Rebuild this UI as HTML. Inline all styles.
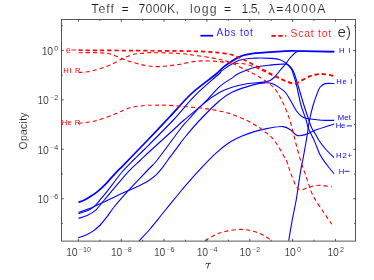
<!DOCTYPE html><html><head><meta charset="utf-8"><title>Opacity</title>
<style>html,body{margin:0;padding:0;background:#fff}svg{display:block}text{font-family:"Liberation Sans",sans-serif}</style></head><body>
<svg width="374" height="280" viewBox="0 0 374 280">
<defs><filter id="sf" x="0" y="0" width="374" height="280" filterUnits="userSpaceOnUse"><feGaussianBlur stdDeviation="0.3"/></filter></defs>
<rect width="374" height="280" fill="#fff"/>
<g filter="url(#sf)">
<g fill="none" stroke-linecap="butt" stroke-linejoin="round">
<path d="M78.50 202.20 C79.42 201.88 82.08 201.20 84.00 200.30 C85.92 199.40 87.75 198.25 90.00 196.80 C92.25 195.35 94.78 193.85 97.50 191.60 C100.22 189.35 103.37 186.30 106.30 183.30 C109.23 180.30 112.27 176.60 115.10 173.60 C117.93 170.60 119.47 169.23 123.30 165.30 C127.13 161.37 134.10 154.13 138.10 150.00 C142.10 145.87 141.98 146.08 147.30 140.50 C152.62 134.92 162.62 124.33 170.00 116.50 C177.38 108.67 184.02 100.50 191.60 93.50 C199.18 86.50 210.10 78.98 215.50 74.50 C220.90 70.02 219.92 69.58 224.00 66.60 C228.08 63.62 234.67 58.85 240.00 56.60 C245.33 54.35 248.67 54.00 256.00 53.10 C263.33 52.20 277.17 51.55 284.00 51.20 C290.83 50.85 288.62 50.92 297.00 51.00 C305.38 51.08 328.08 51.58 334.30 51.70" stroke="#0000ff" stroke-width="1.7"/>
<path d="M139.00 241.00 C140.83 239.00 146.00 233.67 150.00 229.00 C154.00 224.33 158.38 218.67 163.00 213.00 C167.62 207.33 173.70 199.87 177.70 195.00 C181.70 190.13 182.62 188.77 187.00 183.80 C191.38 178.83 199.17 170.30 204.00 165.20 C208.83 160.10 211.83 156.93 216.00 153.20 C220.17 149.47 224.75 145.62 229.00 142.80 C233.25 139.98 237.28 138.17 241.50 136.30 C245.72 134.43 249.88 132.92 254.30 131.60 C258.72 130.28 263.22 129.23 268.00 128.40 C272.78 127.57 279.17 126.28 283.00 126.60 C286.83 126.92 288.58 128.80 291.00 130.30 C293.42 131.80 294.95 134.93 297.50 135.60 C300.05 136.27 303.37 135.20 306.30 134.30 C309.23 133.40 310.45 131.93 315.10 130.20 C319.75 128.47 331.02 124.95 334.20 123.90" stroke="#0000ff" stroke-width="1.1"/>
<path d="M288.70 240.60 C289.33 236.95 291.25 225.47 292.50 218.70 C293.75 211.93 295.28 205.12 296.20 200.00 C297.12 194.88 297.22 193.10 298.00 188.00 C298.78 182.90 300.10 174.07 300.90 169.40 C301.70 164.73 302.03 164.07 302.80 160.00 C303.57 155.93 304.72 149.50 305.50 145.00 C306.28 140.50 306.83 137.17 307.50 133.00 C308.17 128.83 308.55 124.67 309.50 120.00 C310.45 115.33 311.95 109.35 313.20 105.00 C314.45 100.65 315.83 96.90 317.00 93.90 C318.17 90.90 318.83 88.72 320.20 87.00 C321.57 85.28 322.85 84.18 325.20 83.60 C327.55 83.02 332.78 83.52 334.30 83.50" stroke="#0000ff" stroke-width="1.1"/>
<path d="M78.50 212.40 C80.22 211.80 84.98 210.33 88.80 208.80 C92.62 207.27 96.70 205.38 101.40 203.20 C106.10 201.02 112.40 197.85 117.00 195.70 C121.60 193.55 125.05 192.08 129.00 190.30 C132.95 188.52 137.45 186.58 140.70 185.00 C143.95 183.42 145.88 182.53 148.50 180.80 C151.12 179.07 154.03 176.85 156.40 174.60 C158.77 172.35 160.82 169.68 162.70 167.30 C164.58 164.92 166.15 162.43 167.70 160.30 C169.25 158.17 169.90 157.33 172.00 154.50 C174.10 151.67 177.90 146.47 180.30 143.30 C182.70 140.13 183.13 139.38 186.40 135.50 C189.67 131.62 194.33 125.83 199.90 120.00 C205.47 114.17 214.45 105.13 219.80 100.50 C225.15 95.87 226.30 94.85 232.00 92.20 C237.70 89.55 248.33 86.17 254.00 84.60 C259.67 83.03 263.00 82.98 266.00 82.80 C269.00 82.62 269.77 82.70 272.00 83.50 C274.23 84.30 277.17 86.10 279.40 87.60 C281.63 89.10 283.63 90.52 285.40 92.50 C287.17 94.48 288.18 96.47 290.00 99.50 C291.82 102.53 294.20 107.78 296.30 110.70 C298.40 113.62 300.52 115.65 302.60 117.00 C304.68 118.35 305.67 118.27 308.80 118.80 C311.93 119.33 317.17 119.93 321.40 120.20 C325.63 120.47 332.07 120.37 334.20 120.40" stroke="#0000ff" stroke-width="1.1"/>
<path d="M78.50 218.30 C79.80 217.88 83.53 217.07 86.30 215.80 C89.07 214.53 92.17 213.25 95.10 210.70 C98.03 208.15 101.07 203.83 103.90 200.50 C106.73 197.17 108.05 195.48 112.10 190.70 C116.15 185.92 123.45 176.92 128.20 171.80 C132.95 166.68 136.77 163.63 140.60 160.00 C144.43 156.37 145.77 155.00 151.20 150.00 C156.63 145.00 167.72 135.00 173.20 130.00 C178.68 125.00 179.10 124.35 184.10 120.00 C189.10 115.65 197.25 109.50 203.20 103.90 C209.15 98.30 215.00 90.70 219.80 86.40 C224.60 82.10 228.87 80.25 232.00 78.10 C235.13 75.95 234.73 75.32 238.60 73.50 C242.47 71.68 249.68 68.63 255.20 67.20 C260.72 65.77 267.55 65.38 271.70 64.90 C275.85 64.42 277.68 64.43 280.10 64.30 C282.52 64.17 284.55 63.73 286.20 64.10 C287.85 64.47 288.87 65.43 290.00 66.50 C291.13 67.57 292.08 68.75 293.00 70.50 C293.92 72.25 294.53 74.08 295.50 77.00 C296.47 79.92 297.43 83.42 298.80 88.00 C300.17 92.58 302.08 99.33 303.70 104.50 C305.32 109.67 307.17 115.08 308.50 119.00 C309.83 122.92 310.60 125.58 311.70 128.00 C312.80 130.42 313.80 131.28 315.10 133.50 C316.40 135.72 317.62 138.55 319.50 141.30 C321.38 144.05 323.97 147.30 326.40 150.00 C328.83 152.70 332.82 156.25 334.10 157.50" stroke="#0000ff" stroke-width="1.1"/>
<path d="M78.50 213.60 C80.22 213.02 86.03 211.42 88.80 210.10 C91.57 208.78 93.00 207.68 95.10 205.70 C97.20 203.72 99.30 200.70 101.40 198.20 C103.50 195.70 104.33 194.98 107.70 190.70 C111.07 186.42 117.22 177.70 121.60 172.50 C125.98 167.30 130.30 163.25 134.00 159.50 C137.70 155.75 137.25 156.58 143.80 150.00 C150.35 143.42 164.78 129.07 173.30 120.00 C181.82 110.93 187.30 103.27 194.90 95.60 C202.50 87.93 214.38 78.18 218.90 74.00 C223.42 69.82 218.72 72.73 222.00 70.50 C225.28 68.27 233.07 62.67 238.60 60.60 C244.13 58.53 249.68 58.47 255.20 58.10 C260.72 57.73 267.55 58.13 271.70 58.40 C275.85 58.67 277.68 58.88 280.10 59.70 C282.52 60.52 284.33 61.77 286.20 63.30 C288.07 64.83 290.12 67.12 291.30 68.90 C292.48 70.68 292.43 71.32 293.30 74.00 C294.17 76.68 295.25 79.92 296.50 85.00 C297.75 90.08 299.25 98.83 300.80 104.50 C302.35 110.17 304.55 115.08 305.80 119.00 C307.05 122.92 307.55 125.75 308.30 128.00 C309.05 130.25 309.17 130.07 310.30 132.50 C311.43 134.93 313.45 138.83 315.10 142.60 C316.75 146.37 318.22 151.37 320.20 155.10 C322.18 158.83 324.68 161.89 327.00 165.00 C329.32 168.11 332.92 172.29 334.10 173.75" stroke="#0000ff" stroke-width="1.1"/>
<path d="M78.30 237.80 C79.62 237.32 83.63 236.10 86.20 234.90 C88.77 233.70 91.37 232.25 93.70 230.60 C96.03 228.95 98.10 227.15 100.20 225.00 C102.30 222.85 103.85 220.87 106.30 217.70 C108.75 214.53 111.12 210.63 114.90 206.00 C118.68 201.37 123.18 196.23 129.00 189.90 C134.82 183.57 145.10 172.98 149.80 168.00 C154.50 163.02 151.92 166.75 157.20 160.00 C162.48 153.25 176.33 134.17 181.50 127.50 C186.67 120.83 184.58 123.93 188.20 120.00 C191.82 116.07 197.93 108.53 203.20 103.90 C208.47 99.27 215.00 94.97 219.80 92.20 C224.60 89.43 227.48 88.70 232.00 87.30 C236.52 85.90 241.65 84.67 246.90 83.80 C252.15 82.93 259.65 82.65 263.50 82.10 C267.35 81.55 268.25 81.27 270.00 80.50 C271.75 79.73 272.82 78.58 274.00 77.50 C275.18 76.42 275.73 75.62 277.10 74.00 C278.47 72.38 280.68 69.58 282.20 67.80 C283.72 66.02 284.85 64.98 286.20 63.30 C287.55 61.62 288.60 59.57 290.30 57.70 C292.00 55.83 294.45 53.17 296.40 52.10 C298.35 51.03 295.68 51.37 302.00 51.30 C308.32 51.23 328.92 51.63 334.30 51.70" stroke="#0000ff" stroke-width="1.1"/>
<path d="M78.50 50.20 C87.08 50.27 110.42 50.42 130.00 50.60 C149.58 50.78 180.03 50.80 196.00 51.30 C211.97 51.80 218.47 52.48 225.80 53.60 C233.13 54.72 234.63 55.77 240.00 58.00 C245.37 60.23 252.23 64.05 258.00 67.00 C263.77 69.95 269.27 73.10 274.60 75.70 C279.93 78.30 286.38 81.35 290.00 82.60 C293.62 83.85 294.20 83.67 296.30 83.20 C298.40 82.73 300.52 80.92 302.60 79.80 C304.68 78.68 306.72 77.37 308.80 76.50 C310.88 75.63 312.78 75.02 315.10 74.60 C317.42 74.18 319.97 73.88 322.70 74.00 C325.43 74.12 329.62 75.00 331.50 75.30 C333.38 75.60 333.58 75.72 334.00 75.80" stroke="#ff0000" stroke-width="1.7" stroke-dasharray="4.2 3"/>
<path d="M78.50 72.50 C80.75 72.25 86.75 72.25 92.00 71.00 C97.25 69.75 103.67 67.60 110.00 65.00 C116.33 62.40 124.17 57.40 130.00 55.40 C135.83 53.40 140.83 53.45 145.00 53.00 C149.17 52.55 149.17 52.62 155.00 52.70 C160.83 52.78 173.17 53.03 180.00 53.50 C186.83 53.97 190.17 54.67 196.00 55.50 C201.83 56.33 209.47 57.43 215.00 58.50 C220.53 59.57 224.07 59.97 229.20 61.90 C234.33 63.83 241.00 67.72 245.80 70.10 C250.60 72.48 253.33 73.27 258.00 76.20 C262.67 79.13 269.65 83.30 273.80 87.70 C277.95 92.10 280.28 97.35 282.90 102.60 C285.52 107.85 287.85 114.50 289.50 119.20 C291.15 123.90 291.67 126.50 292.80 130.80 C293.93 135.10 294.88 139.68 296.30 145.00 C297.72 150.32 299.43 156.77 301.30 162.70 C303.17 168.63 305.55 175.12 307.50 180.60 C309.45 186.08 310.35 190.37 313.00 195.60 C315.65 200.83 320.27 207.22 323.40 212.00 C326.53 216.78 330.40 222.25 331.80 224.30" stroke="#ff0000" stroke-width="1.1" stroke-dasharray="4.2 3"/>
<path d="M78.50 52.70 C82.08 52.72 94.42 52.50 100.00 52.80 C105.58 53.10 107.00 53.05 112.00 54.50 C117.00 55.95 123.23 59.50 130.00 61.50 C136.77 63.50 145.10 65.92 152.60 66.50 C160.10 67.08 167.77 65.87 175.00 65.00 C182.23 64.13 189.33 61.93 196.00 61.30 C202.67 60.67 208.92 60.88 215.00 61.20 C221.08 61.52 227.50 62.73 232.50 63.20 C237.50 63.67 240.75 63.12 245.00 64.00 C249.25 64.88 253.07 66.42 258.00 68.50 C262.93 70.58 269.27 74.08 274.60 76.50 C279.93 78.92 286.38 81.82 290.00 83.00 C293.62 84.18 294.20 84.07 296.30 83.60 C298.40 83.13 300.52 81.32 302.60 80.20 C304.68 79.08 306.72 77.77 308.80 76.90 C310.88 76.03 312.78 75.42 315.10 75.00 C317.42 74.58 319.55 74.23 322.70 74.40 C325.85 74.57 332.12 75.73 334.00 76.00" stroke="#ff0000" stroke-width="1.1" stroke-dasharray="4.2 3"/>
<path d="M78.50 123.30 C81.25 122.92 88.92 122.55 95.00 121.00 C101.08 119.45 109.17 116.20 115.00 114.00 C120.83 111.80 125.00 109.22 130.00 107.80 C135.00 106.38 140.83 105.93 145.00 105.50 C149.17 105.07 150.83 105.22 155.00 105.20 C159.17 105.18 163.17 105.00 170.00 105.40 C176.83 105.80 188.90 106.88 196.00 107.60 C203.10 108.32 207.07 108.73 212.60 109.70 C218.13 110.67 223.67 111.68 229.20 113.40 C234.73 115.12 241.00 117.77 245.80 120.00 C250.60 122.23 254.87 124.87 258.00 126.80 C261.13 128.73 261.93 129.40 264.60 131.60 C267.27 133.80 270.43 135.27 274.00 140.00 C277.57 144.73 283.23 154.50 286.00 160.00 C288.77 165.50 288.90 168.63 290.60 173.00 C292.30 177.37 294.48 183.37 296.20 186.20 C297.92 189.03 298.72 189.87 300.90 190.00 C303.08 190.13 306.33 187.78 309.30 187.00 C312.27 186.22 314.95 185.33 318.70 185.30 C322.45 185.27 329.62 186.55 331.80 186.80" stroke="#ff0000" stroke-width="1.1" stroke-dasharray="4.2 3"/>
<path d="M205.00 240.70 C206.67 239.75 211.67 236.53 215.00 235.00 C218.33 233.47 220.58 232.43 225.00 231.50 C229.42 230.57 236.50 229.35 241.50 229.40 C246.50 229.45 251.08 230.65 255.00 231.80 C258.92 232.95 262.22 234.82 265.00 236.30 C267.78 237.78 270.58 239.97 271.70 240.70" stroke="#ff0000" stroke-width="1.1" stroke-dasharray="4.2 3"/>
</g>
<g stroke="#3a3a3a" stroke-width="0.85" fill="none">
<rect x="61.50" y="19.50" width="294.00" height="221.60"/>
<path d="M78.40 241.10 v-2.30 M78.40 19.50 v2.30 M99.82 241.10 v-1.40 M99.82 19.50 v1.40 M121.24 241.10 v-2.30 M121.24 19.50 v2.30 M142.66 241.10 v-1.40 M142.66 19.50 v1.40 M164.08 241.10 v-2.30 M164.08 19.50 v2.30 M185.50 241.10 v-1.40 M185.50 19.50 v1.40 M206.92 241.10 v-2.30 M206.92 19.50 v2.30 M228.34 241.10 v-1.40 M228.34 19.50 v1.40 M249.76 241.10 v-2.30 M249.76 19.50 v2.30 M271.18 241.10 v-1.40 M271.18 19.50 v1.40 M292.60 241.10 v-2.30 M292.60 19.50 v2.30 M314.02 241.10 v-1.40 M314.02 19.50 v1.40 M335.44 241.10 v-2.30 M335.44 19.50 v2.30 M61.50 223.44 h1.40 M355.50 223.44 h-1.40 M61.50 198.72 h2.30 M355.50 198.72 h-2.30 M61.50 174.00 h1.40 M355.50 174.00 h-1.40 M61.50 149.28 h2.30 M355.50 149.28 h-2.30 M61.50 124.56 h1.40 M355.50 124.56 h-1.40 M61.50 99.84 h2.30 M355.50 99.84 h-2.30 M61.50 75.12 h1.40 M355.50 75.12 h-1.40 M61.50 50.40 h2.30 M355.50 50.40 h-2.30 M61.50 25.68 h1.40 M355.50 25.68 h-1.40"/>
</g>
<text x="91.30" y="13.10" font-size="12.3" fill="#1a1a1a" textLength="22.6" lengthAdjust="spacing"  stroke="#fff" stroke-width="0.16">Teff</text>
<text x="121.40" y="13.10" font-size="12.3" fill="#1a1a1a" textLength="8.8" lengthAdjust="spacing"  stroke="#fff" stroke-width="0.16">=</text>
<text x="138.50" y="13.10" font-size="12.3" fill="#1a1a1a" textLength="40.3" lengthAdjust="spacing"  stroke="#fff" stroke-width="0.16">7000K,</text>
<text x="190.00" y="13.10" font-size="12.3" fill="#1a1a1a" textLength="26.5" lengthAdjust="spacing"  stroke="#fff" stroke-width="0.16">logg</text>
<text x="224.00" y="13.10" font-size="12.3" fill="#1a1a1a" textLength="8.8" lengthAdjust="spacing"  stroke="#fff" stroke-width="0.16">=</text>
<text x="241.60" y="13.10" font-size="12.3" fill="#1a1a1a" textLength="18.9" lengthAdjust="spacing"  stroke="#fff" stroke-width="0.16">1.5,</text>
<text x="268.80" y="13.10" font-size="12.3" fill="#1a1a1a" textLength="56.6" lengthAdjust="spacing"  stroke="#fff" stroke-width="0.16">λ=4000A</text>
<text x="66.30" y="255.80" font-size="10.4" fill="#1a1a1a" textLength="11.3" lengthAdjust="spacing"  stroke="#fff" stroke-width="0.14">10</text>
<text x="78.80" y="252.00" font-size="7.2" fill="#1a1a1a"  stroke="#fff" stroke-width="0.09">−10</text>
<text x="111.09" y="255.80" font-size="10.4" fill="#1a1a1a" textLength="11.3" lengthAdjust="spacing"  stroke="#fff" stroke-width="0.14">10</text>
<text x="123.59" y="252.00" font-size="7.2" fill="#1a1a1a"  stroke="#fff" stroke-width="0.09">−8</text>
<text x="153.93" y="255.80" font-size="10.4" fill="#1a1a1a" textLength="11.3" lengthAdjust="spacing"  stroke="#fff" stroke-width="0.14">10</text>
<text x="166.43" y="252.00" font-size="7.2" fill="#1a1a1a"  stroke="#fff" stroke-width="0.09">−6</text>
<text x="196.77" y="255.80" font-size="10.4" fill="#1a1a1a" textLength="11.3" lengthAdjust="spacing"  stroke="#fff" stroke-width="0.14">10</text>
<text x="209.27" y="252.00" font-size="7.2" fill="#1a1a1a"  stroke="#fff" stroke-width="0.09">−4</text>
<text x="239.61" y="255.80" font-size="10.4" fill="#1a1a1a" textLength="11.3" lengthAdjust="spacing"  stroke="#fff" stroke-width="0.14">10</text>
<text x="252.11" y="252.00" font-size="7.2" fill="#1a1a1a"  stroke="#fff" stroke-width="0.09">−2</text>
<text x="284.55" y="255.80" font-size="10.4" fill="#1a1a1a" textLength="11.3" lengthAdjust="spacing"  stroke="#fff" stroke-width="0.14">10</text>
<text x="297.05" y="252.00" font-size="7.2" fill="#1a1a1a"  stroke="#fff" stroke-width="0.09">0</text>
<text x="327.39" y="255.80" font-size="10.4" fill="#1a1a1a" textLength="11.3" lengthAdjust="spacing"  stroke="#fff" stroke-width="0.14">10</text>
<text x="339.89" y="252.00" font-size="7.2" fill="#1a1a1a"  stroke="#fff" stroke-width="0.09">2</text>
<text x="54.20" y="50.90" font-size="7.2" fill="#1a1a1a"  stroke="#fff" stroke-width="0.09">0</text>
<text x="41.70" y="55.00" font-size="10.4" fill="#1a1a1a" textLength="11.3" lengthAdjust="spacing"  stroke="#fff" stroke-width="0.14">10</text>
<text x="50.00" y="100.34" font-size="7.2" fill="#1a1a1a"  stroke="#fff" stroke-width="0.09">−2</text>
<text x="37.50" y="104.44" font-size="10.4" fill="#1a1a1a" textLength="11.3" lengthAdjust="spacing"  stroke="#fff" stroke-width="0.14">10</text>
<text x="50.00" y="149.78" font-size="7.2" fill="#1a1a1a"  stroke="#fff" stroke-width="0.09">−4</text>
<text x="37.50" y="153.88" font-size="10.4" fill="#1a1a1a" textLength="11.3" lengthAdjust="spacing"  stroke="#fff" stroke-width="0.14">10</text>
<text x="50.00" y="199.22" font-size="7.2" fill="#1a1a1a"  stroke="#fff" stroke-width="0.09">−6</text>
<text x="37.50" y="203.32" font-size="10.4" fill="#1a1a1a" textLength="11.3" lengthAdjust="spacing"  stroke="#fff" stroke-width="0.14">10</text>
<text transform="translate(26.8,149.4) rotate(-90)" font-size="10.4" fill="#1a1a1a" stroke="#fff" stroke-width="0.12" textLength="36.9" lengthAdjust="spacing">Opacity</text>
<path d="M205.3 264.5 Q205.9 263.2 207.3 263.4 L210.9 263.3 M208.8 263.4 L207.4 268.5" stroke="#2a2a2a" stroke-width="0.9" fill="none"/>
<path d="M200.4 35.7 H213.1" stroke="#0000ff" stroke-width="1.7" fill="none"/>
<text x="216.60" y="36.20" font-size="10.3" fill="#0000ff" textLength="36.2" lengthAdjust="spacing"  stroke="#fff" stroke-width="0.13">Abs tot</text>
<path d="M271.4 35.9 H288" stroke="#ff0000" stroke-width="1.7" stroke-dasharray="4.4 2.5 4.4 2.5 1.1 100" fill="none"/>
<text x="290.60" y="36.50" font-size="10.3" fill="#ff0000" textLength="40.6" lengthAdjust="spacing"  stroke="#fff" stroke-width="0.13">Scat tot</text>
<text x="337.60" y="37.10" font-size="15.2" fill="#2a2a2a" textLength="13.4" lengthAdjust="spacing"  stroke="#fff" stroke-width="0.20">e)</text>
<text x="339.00" y="52.70" font-size="7.7" fill="#0000ff" textLength="11.3" lengthAdjust="spacing">H I</text>
<text x="336.20" y="84.30" font-size="7.7" fill="#0000ff" textLength="16.3" lengthAdjust="spacing">He I</text>
<text x="337.80" y="120.30" font-size="7.7" fill="#0000ff" textLength="13.1" lengthAdjust="spacing">Met</text>
<text x="335.80" y="127.90" font-size="7.7" fill="#0000ff" textLength="9.5" lengthAdjust="spacing">He</text>
<path d="M346.80 125.90 H351.90" stroke="#0000ff" stroke-width="0.9" fill="none"/>
<text x="336.00" y="158.10" font-size="7.7" fill="#0000ff" textLength="16.0" lengthAdjust="spacing">H2+</text>
<text x="338.75" y="174.00" font-size="7.7" fill="#0000ff">H</text>
<path d="M344.50 171.30 H349.50" stroke="#0000ff" stroke-width="0.9" fill="none"/>
<text x="65.90" y="53.00" font-size="8.4" fill="#ff0000">e</text>
<path d="M71.30 50.00 H76.10" stroke="#ff0000" stroke-width="0.9" fill="none"/>
<text x="63.20" y="72.90" font-size="7.7" fill="#ff0000" textLength="17.3" lengthAdjust="spacing">HI R</text>
<text x="61.70" y="124.50" font-size="7.7" fill="#ff0000" textLength="18.6" lengthAdjust="spacing">He R</text>
</g></svg></body></html>
